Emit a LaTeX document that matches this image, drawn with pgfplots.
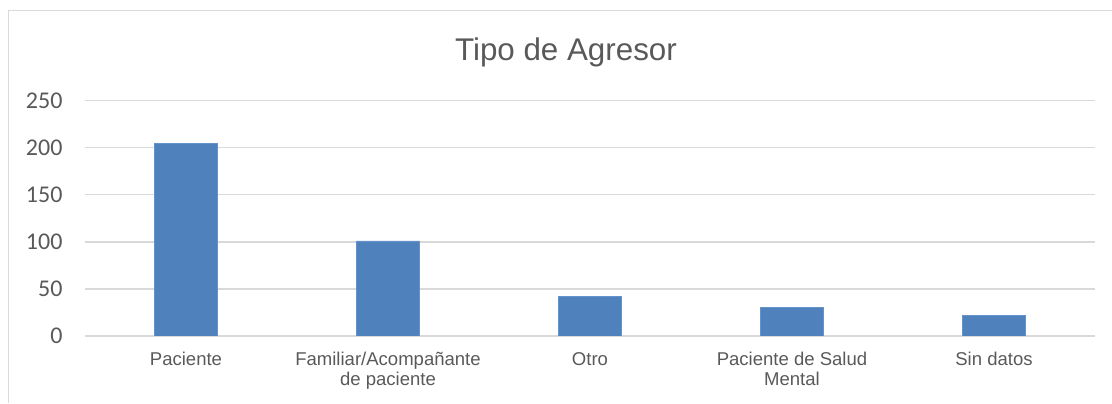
\documentclass[border=0pt]{standalone}
\usepackage{pgfplots}
\pgfplotsset{compat=1.18}
\usepackage{fontspec}
\setmainfont{Liberation Sans}
\newfontfamily\calibri{Carlito}
\definecolor{barblue}{HTML}{4F81BD}
\definecolor{baredge}{HTML}{6592CA}
\definecolor{gridgray}{HTML}{D9D9D9}
\definecolor{txt}{HTML}{595959}
\begin{document}
\begin{tikzpicture}
\useasboundingbox (0,0) rectangle (834pt,302.25pt);
\draw[gridgray, line width=0.9pt] (6.4pt,0) -- (6.4pt,294.4pt) -- (834pt,294.4pt);
\begin{axis}[
  at={(63.75pt,50.25pt)}, anchor=south west, scale only axis,
  width=757.5pt, height=176.5pt,
  xmin=-0.5, xmax=4.5, ymin=0, ymax=250,
  ytick={0,50,100,150,200,250},
  yticklabels={0,50,100,150,200,250},
  xtick={0,1,2,3,4},
  xticklabels={Paciente,{Familiar/Acompañante\\de paciente},Otro,{Paciente de Salud\\Mental},Sin datos},
  ymajorgrids, grid style={gridgray, line width=1pt},
  axis line style={draw=none}, major tick length=0pt,
  yticklabel style={font=\calibri\fontsize{18}{18}\selectfont, color=txt, anchor=east, inner sep=0pt, xshift=-16.7pt},
  xticklabel style={font=\fontsize{13.9}{15}\selectfont, color=txt, anchor=north, inner sep=0pt, yshift=-12pt, align=center},
  title={Tipo de Agresor},
  every axis title/.style={at={(0.4762,1.1687)}, anchor=base, font=\fontsize{23.5}{28}\selectfont, color=txt, inner sep=0pt},
]
\addplot[ybar, bar width=47.25pt, fill=barblue, draw=baredge, line width=0.5pt]
  coordinates {(0,205) (1,101) (2,42) (3,30) (4,22)};
\end{axis}
\end{tikzpicture}
\end{document}
